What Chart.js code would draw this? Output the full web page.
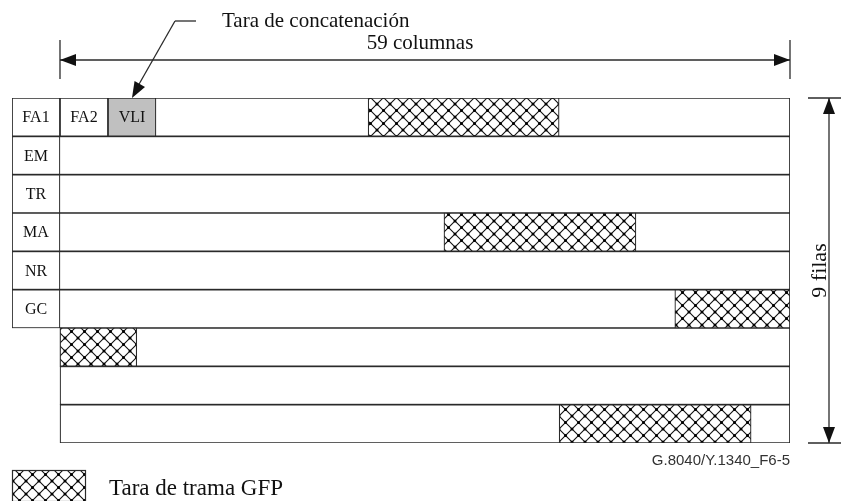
<!DOCTYPE html>
<html>
<head>
<meta charset="utf-8">
<script src="https://cdn.jsdelivr.net/npm/chart.js@4.4.1/dist/chart.umd.min.js"></script>
<style>
  html, body { margin: 0; padding: 0; background: #fff; }
  canvas { display: block; }
</style>
</head>
<body>
<canvas id="frameChart" width="841" height="501"></canvas>
<script>
// ==========================================
// Data: GFP frame layout (units = one cell width)
// ==========================================

const rowNames = ['FA1', 'EM', 'TR', 'MA', 'NR', 'GC', '', '', ''];
const COLS_END = 16.21;                  // right edge of the frame
const rowStart = [0, 0, 0, 0, 0, 0, 1, 1, 1];
const labelSpans = [[0, 1], [0, 1], [0, 1], [0, 1], [0, 1], [0, 1], null, null, null];
const fa2Spans = [[1, 2], null, null, null, null, null, null, null, null];
const vliSpans = [[2, 3], null, null, null, null, null, null, null, null];
const hatchSpans = [[7.42, 11.4], null, null, [9.0, 13.0], null, [13.81, COLS_END], [1, 2.6], null, [11.4, 15.4]];

const COLUMNS_TEXT = '59 columnas';
const ROWS_TEXT = '9 filas';
const POINTER_TEXT = 'Tara de concatenación';
const LEGEND_TEXT = 'Tara de trama GFP';
const FIGURE_ID = 'G.8040/Y.1340_F6-5';

const LINE = '#2a2a2a';
const SERIF = '"Liberation Serif", "Times New Roman", serif';

// ==========================================
// Helpers
// ==========================================

/**
 * Cross-hatch tile with dots at the crossings
 */
function makeHatch(ctx) {
  const s = 13;
  const c = document.createElement('canvas');
  c.width = s; c.height = s;
  const g = c.getContext('2d');
  g.fillStyle = '#fff';
  g.fillRect(0, 0, s, s);
  g.strokeStyle = '#111';
  g.lineWidth = 1.1;
  g.beginPath();
  g.moveTo(0, 0); g.lineTo(s, s);
  g.moveTo(s, 0); g.lineTo(0, s);
  g.stroke();
  g.fillStyle = '#000';
  [[s / 2, s / 2], [0, 0], [s, 0], [0, s], [s, s]].forEach(([x, y]) => {
    g.beginPath();
    g.arc(x, y, 1.5, 0, Math.PI * 2);
    g.fill();
  });
  return ctx.createPattern(c, 'repeat');
}

function arrowHead(ctx, x, y, angle, len, half) {
  ctx.save();
  ctx.translate(x, y);
  ctx.rotate(angle);
  ctx.beginPath();
  ctx.moveTo(0, 0);
  ctx.lineTo(-len, -half);
  ctx.lineTo(-len, half);
  ctx.closePath();
  ctx.fill();
  ctx.restore();
}

function line(ctx, x1, y1, x2, y2) {
  ctx.beginPath();
  ctx.moveTo(x1, y1);
  ctx.lineTo(x2, y2);
  ctx.stroke();
}

// ==========================================
// Plugins
// ==========================================

// text inside the cells
const cellTextPlugin = {
  id: 'cellText',
  afterDatasetsDraw(chart) {
    const ctx = chart.ctx;
    ctx.save();
    ctx.fillStyle = '#111';
    ctx.font = '16px ' + SERIF;
    ctx.textAlign = 'center';
    ctx.textBaseline = 'middle';
    chart.data.datasets.forEach((ds, i) => {
      if (!ds.texts) return;
      chart.getDatasetMeta(i).data.forEach((bar, j) => {
        const t = ds.texts[j];
        if (!t || !ds.data[j]) return;
        ctx.fillText(t, (bar.x + bar.base) / 2, bar.y + 1);
      });
    });
    ctx.restore();
  }
};

// dimension arrows, pointer, legend and figure id
const annotationPlugin = {
  id: 'annotations',
  afterDraw(chart) {
    const ctx = chart.ctx;
    const x = chart.scales.x;
    const area = chart.chartArea;
    const xl = x.getPixelForValue(1);
    const xr = x.getPixelForValue(COLS_END);

    ctx.save();
    ctx.strokeStyle = LINE;
    ctx.fillStyle = '#111';
    ctx.lineWidth = 1.3;

    // 59 columnas
    const ay = 60;
    line(ctx, xl, 40, xl, 79);
    line(ctx, xr, 40, xr, 79);
    line(ctx, xl, ay, xr, ay);
    arrowHead(ctx, xl, ay, Math.PI, 16, 6);
    arrowHead(ctx, xr, ay, 0, 16, 6);
    ctx.font = '21px ' + SERIF;
    ctx.textAlign = 'center';
    ctx.textBaseline = 'alphabetic';
    ctx.fillText(COLUMNS_TEXT, (xl + xr) / 2 - 5, 49);

    // 9 filas
    const vx = 829;
    line(ctx, 808, area.top, 846, area.top);
    line(ctx, 808, area.bottom, 846, area.bottom);
    line(ctx, vx, area.top, vx, area.bottom);
    arrowHead(ctx, vx, area.top, -Math.PI / 2, 16, 6);
    arrowHead(ctx, vx, area.bottom, Math.PI / 2, 16, 6);
    ctx.save();
    ctx.translate(826, (area.top + area.bottom) / 2);
    ctx.rotate(-Math.PI / 2);
    ctx.textAlign = 'center';
    ctx.font = '22px ' + SERIF;
    ctx.fillText(ROWS_TEXT, 0, 0);
    ctx.restore();

    // pointer to VLI
    const tipX = x.getPixelForValue(2.5);
    ctx.textAlign = 'left';
    ctx.fillText(POINTER_TEXT, 222, 27);
    line(ctx, 175, 21, 196, 21);
    line(ctx, 175, 21, tipX + 6, area.top - 12);
    arrowHead(ctx, tipX, area.top, Math.atan2(area.top - 21, tipX - 175), 16, 6);

    // figure id
    ctx.font = '15px "Liberation Sans", Arial, sans-serif';
    ctx.fillStyle = '#333';
    ctx.textAlign = 'right';
    ctx.fillText(FIGURE_ID, xr, 465);

    // legend
    ctx.fillStyle = chart.data.datasets[3].backgroundColor;
    ctx.fillRect(12, 470, 74, 31);
    ctx.lineWidth = 1.2;
    ctx.strokeRect(12.5, 470.5, 73, 31);
    ctx.fillStyle = '#111';
    ctx.font = '23px ' + SERIF;
    ctx.textAlign = 'left';
    ctx.fillText(LEGEND_TEXT, 109, 495);
    ctx.restore();
  }
};

// ==========================================
// Chart
// ==========================================

const canvas = document.getElementById('frameChart');
const hatch = makeHatch(canvas.getContext('2d'));

const barBase = {
  borderColor: LINE,
  borderWidth: 1.2,
  borderSkipped: false,
  barPercentage: 1,
  categoryPercentage: 1,
  grouped: false
};

new Chart(canvas, {
  type: 'bar',
  data: {
    labels: rowNames,
    datasets: [
      { ...barBase, label: 'rows', data: rowStart.map(s => [s, COLS_END]), backgroundColor: '#fff', order: 4 },
      { ...barBase, label: 'names', data: labelSpans, texts: rowNames, backgroundColor: '#fff', order: 3 },
      { ...barBase, label: 'FA2/VLI', data: fa2Spans.map((s, i) => s || vliSpans[i]), backgroundColor: '#fff', order: 2 },
      { ...barBase, label: 'hatch', data: hatchSpans, backgroundColor: hatch, order: 1 },
      { ...barBase, label: 'VLI', data: vliSpans, texts: ['VLI'], backgroundColor: '#c0c0c0', order: 0 },
      { ...barBase, label: 'FA2', data: fa2Spans, texts: ['FA2'], backgroundColor: '#fff', order: 0 }
    ]
  },
  options: {
    responsive: false,
    animation: false,
    indexAxis: 'y',
    layout: { padding: { left: 12, right: 51, top: 98, bottom: 58 } },
    plugins: { legend: { display: false }, tooltip: { enabled: false } },
    scales: {
      x: { type: 'linear', min: 0, max: COLS_END, display: false },
      y: { type: 'category', display: false, offset: true }
    }
  },
  plugins: [cellTextPlugin, annotationPlugin]
});
</script>
</body>
</html>
